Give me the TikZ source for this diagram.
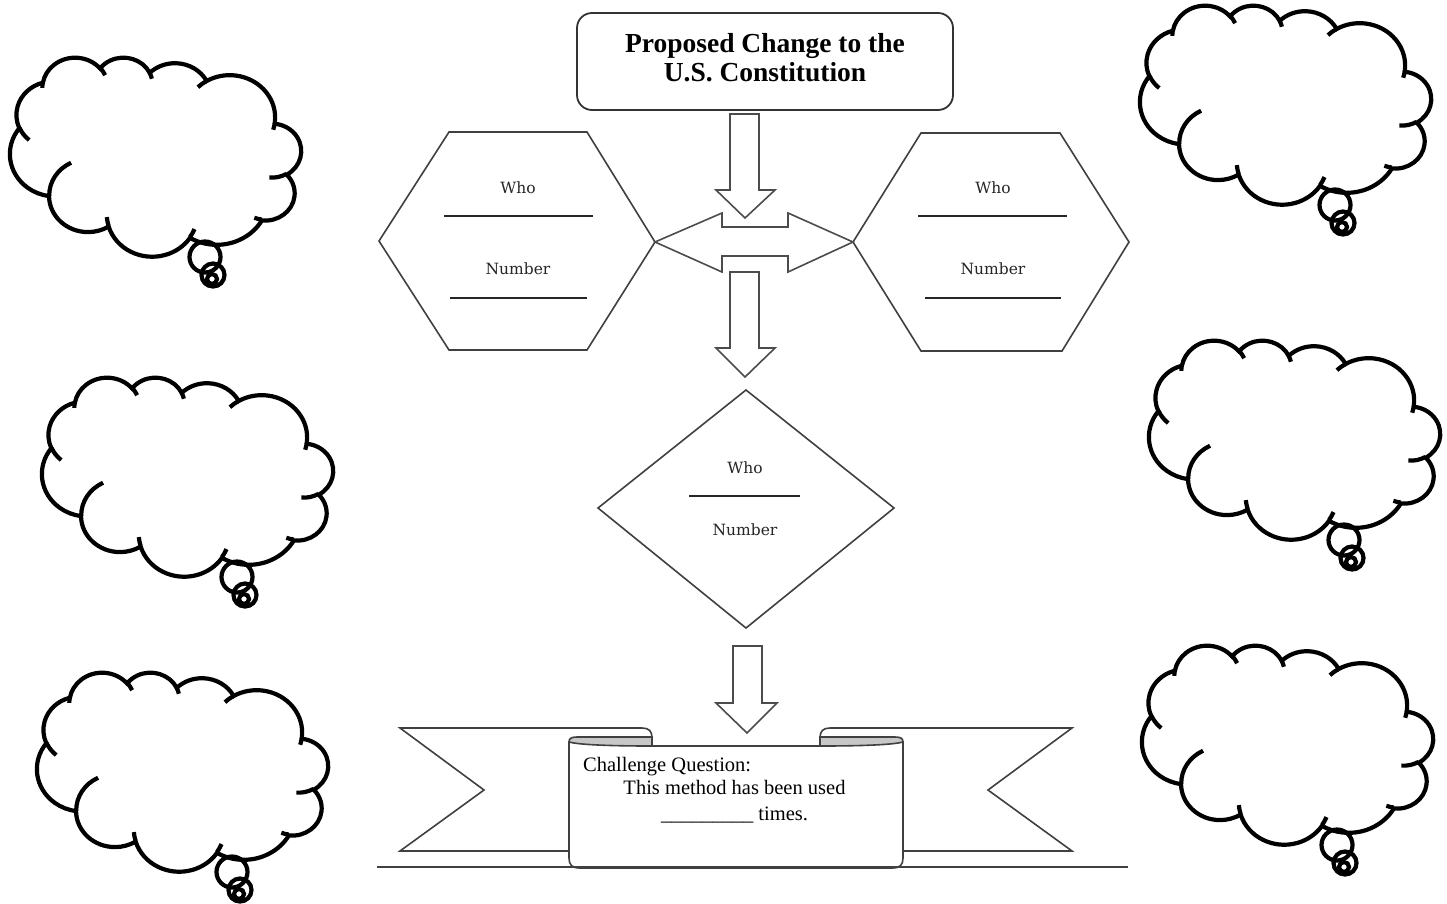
\documentclass[tikz,border=0pt]{standalone}
\usepackage{fontspec}
\setmainfont{Liberation Serif}
\newfontfamily\slabfont{DejaVu Serif}
\makeatletter
\pgfmathdeclarefunction{ooang}{3}{%
  \begingroup
    \pgfmathparse{atan2((#2)*sin(#1),(#3)*cos(#1))}%
    \let\oo@t\pgfmathresult
    \pgfmathparse{(\oo@t)+360*round(((#1)-(\oo@t))/360)}%
    \pgfmath@smuggleone\pgfmathresult
  \endgroup}
\makeatother
\newcommand\ooarc[4]{arc[x radius=#1, y radius=#2, start angle={ooang(#3,#1,#2)}, end angle={ooang(#3+#4,#1,#2)}]}
\tikzset{
  outl/.style={draw=black!75, line width=1.6pt, line join=miter},
  blockarrow/.style={draw=black!70, line width=1.6pt, fill=white},
  lbl/.style={font=\slabfont\fontsize{15.5}{18}\selectfont, text=black!85, inner sep=0pt, anchor=base},
  blank/.style={draw=black!85, line width=1.4pt},
  cloudline/.style={draw=black, line width=4.2pt},
  scrolltext/.style={font=\fontsize{20.5}{24}\selectfont, inner sep=0pt, anchor=base}
}
\newcommand\thoughtcloud[3]{%
  \begin{scope}[shift={(#2,#3)}]
    \begin{scope}[shift={(291,0)}, xscale=-291/43.2, yscale=199/43.2]
      \draw[cloudline, fill=white] (3.9,14.37)
        \ooarc{6.753}{9.19}{-190.4875}{123.7805}
        \ooarc{5.333}{7.267}{-144.1024}{89.9452}
        \ooarc{4.365}{5.945}{-145.8079}{99.7230}
        \ooarc{4.857}{6.595}{-130.9861}{117.2417}
        \ooarc{5.333}{7.273}{-78.7089}{109.0269}
        \ooarc{6.775}{9.22}{-46.2673}{130.2690}
        \ooarc{5.785}{7.867}{0.6250}{114.0333}
        \ooarc{6.752}{9.215}{22.4516}{115.1726}
        \ooarc{7.72}{10.543}{66.2426}{75.7110}
        \ooarc{4.36}{5.918}{-274.9421}{146.7356}
        \ooarc{4.345}{5.945}{-246.8285}{152.5189} -- cycle;
      \draw[cloudline]
        (4.693,26.177) \ooarc{4.345}{5.945}{86.742}{26.4295}
        (6.928,34.899) \ooarc{4.36}{5.918}{73.6105}{11.4475}
        (16.478,39.09) \ooarc{6.752}{9.215}{137.6242}{14.0811}
        (28.827,34.751) \ooarc{6.752}{9.215}{6.4533}{15.9984}
        (34.129,22.954) \ooarc{5.785}{7.867}{-70.2924}{70.9174}
        (41.798,15.354) \ooarc{5.333}{7.273}{30.318}{27.7515}
        (38.324,5.426) \ooarc{4.857}{6.595}{-13.7443}{14.8589}
        (29.078,3.952) \ooarc{4.857}{6.595}{-149.1815}{18.1954}
        (22.141,4.72) \ooarc{4.365}{5.945}{-163.4943}{17.6864}
        (14,5.192) \ooarc{6.753}{9.19}{-66.707}{12.3194}
        (4.127,15.789) \ooarc{6.753}{9.19}{157.6544}{11.8582};
    \end{scope}
    \draw[cloudline] (195,200) circle[radius=15.5];
    \draw[cloudline] (203,218) circle[radius=11.5];
    \draw[cloudline] (202,222) circle[radius=5];
    \coordinate (#1) at (145,100);
  \end{scope}}
\begin{document}
\begin{tikzpicture}[x=1pt, y=-1pt]
\fill[white] (0,0) rectangle (1447,903);
\useasboundingbox (0,0) rectangle (1447,903);

% thought clouds
\thoughtcloud{cloudA}{10}{57}
\thoughtcloud{cloudB}{1140}{5}
\thoughtcloud{cloudC}{42}{377}
\thoughtcloud{cloudD}{37}{672}
\thoughtcloud{cloudE}{1149}{340}
\thoughtcloud{cloudF}{1142}{645}

% title
\node[draw=black!80, line width=1.8pt, rounded corners=15pt, minimum width=376pt, minimum height=97pt, inner sep=0pt] (title) at (765,61.5) {};
\node[font=\bfseries\fontsize{27.5}{29}\selectfont, align=center, anchor=base, inner sep=0pt] (titletext) at (765,81) {Proposed Change to the\\U.S. Constitution};

% hexagons
\coordinate (hexLe) at (655,242);
\coordinate (hexRw) at (853,242);
\draw[outl] (379,241) -- (449,132) -- (587,132) -- (hexLe) -- (587,350) -- (449,350) -- cycle;
\draw[outl] (hexRw) -- (921,133) -- (1060,133) -- (1129,242) -- (1062,351) -- (921,351) -- cycle;
\node[lbl] (whoL) at (518,193) {Who};
\draw[blank] (444,216) -- (593,216);
\node[lbl] (numL) at (518,274) {Number};
\draw[blank] (450,298) -- (587,298);
\node[lbl] (whoR) at (993,193) {Who};
\draw[blank] (918,216) -- (1067,216);
\node[lbl] (numR) at (993,274) {Number};
\draw[blank] (925,298) -- (1061,298);

% diamond
\draw[outl] (746,390) -- (894,508) -- (746,628) -- (598,508) -- cycle;
\node[lbl] (whoD) at (745,473) {Who};
\draw[blank] (689,496) -- (800,496);
\node[lbl] (numD) at (745,535) {Number};

% block arrows
\draw[blockarrow] (730,114) -- (759,114) -- (759,190) -- (775,190) -- (745,218) -- (716,190) -- (730,190) -- cycle;
\draw[blockarrow] (hexLe) -- (722,213) -- (722,227) -- (788,227) -- (788,213) -- (hexRw) -- (788,272) -- (788,256) -- (722,256) -- (722,272) -- cycle;
\draw[blockarrow] (730,272) -- (759,272) -- (759,348) -- (775,348) -- (745,377) -- (716,348) -- (730,348) -- cycle;
\draw[blockarrow] (733,646) -- (762,646) -- (762,703) -- (777,703) -- (747,733) -- (716,703) -- (733,703) -- cycle;

% ribbon banner
\draw[outl, fill=white] (569,851) -- (400,851) -- (484,790) -- (400,728) -- (642,728) .. controls (649,728) and (652,731) .. (652,738) -- (652,746);
\draw[outl, fill=white] (903,851) -- (1072,851) -- (988,790) -- (1072,728) -- (830,728) .. controls (823,728) and (820,731) .. (820,738) -- (820,746);
\draw[outl, fill=white] (569,742) -- (569,858) .. controls (569,865) and (572,868) .. (580,868) -- (892,868) .. controls (900,868) and (903,865) .. (903,858) -- (903,742) -- (820,746) -- (652,746) -- cycle;
\draw[outl, fill=black!22] (569,742) .. controls (569,738) and (572,737) .. (577,737) -- (652,737) -- (652,746) .. controls (615,746) and (580,745) .. (569,742) -- cycle;
\draw[outl, fill=black!22] (903,742) .. controls (903,738) and (900,737) .. (895,737) -- (820,737) -- (820,746) .. controls (857,746) and (892,745) .. (903,742) -- cycle;
\draw[outl] (377,867) -- (1128,867);
\node[scrolltext, anchor=base west] (cq1) at (583,771) {Challenge Question:};
\node[scrolltext] (cq2) at (734.5,794) {This method has been used};
\node[scrolltext] (cq3) at (734.5,820) {\_\_\_\_\_\_\_\_\_ times.};
\end{tikzpicture}
\end{document}
